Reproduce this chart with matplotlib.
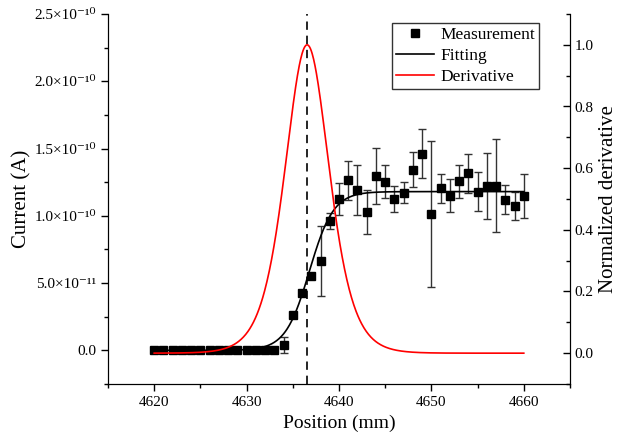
import numpy as np
import matplotlib
matplotlib.use("Agg")
import matplotlib.pyplot as plt
from matplotlib.ticker import MultipleLocator, FuncFormatter
from matplotlib.lines import Line2D

plt.rcParams['font.family'] = ['Liberation Serif', 'DejaVu Serif']

# Measurement data
position = list(range(4620, 4661))
current = [0, 0, 0, 0, 0, 0, 0, 0, 0, 0, 0, 0, 0, 0,
           0.40e-11, 2.60e-11, 4.26e-11, 5.53e-11, 6.67e-11, 9.62e-11,
           11.26e-11, 12.65e-11, 11.90e-11, 10.27e-11, 12.95e-11, 12.52e-11,
           11.23e-11, 11.73e-11, 13.44e-11, 14.63e-11, 10.14e-11, 12.05e-11,
           11.48e-11, 12.57e-11, 13.15e-11, 11.78e-11, 12.20e-11, 12.25e-11,
           11.21e-11, 10.71e-11, 11.48e-11]
current_err = [0, 0, 0, 0, 0, 0, 0, 0, 0, 0, 0, 0, 0, 0,
               0.57e-11, 0.2e-11, 0.2e-11, 0.2e-11, 2.6e-11, 0.57e-11,
               1.17e-11, 1.46e-11, 1.85e-11, 1.64e-11, 2.10e-11, 1.23e-11,
               0.95e-11, 0.79e-11, 1.27e-11, 1.82e-11, 5.42e-11, 1.08e-11,
               1.22e-11, 1.23e-11, 1.44e-11, 1.44e-11, 2.44e-11, 3.46e-11,
               1.10e-11, 1.03e-11, 1.61e-11]

# Boltzmann fit parameters
fit_A1 = 0.0
fit_A2 = 1.18e-10
fit_x0 = 4636.8
fit_dx = 1.3
# Derivative curve parameters
deriv_x0 = 4636.55
deriv_dx = 1.6
fit_range = (4620, 4660)

x_fit = np.linspace(fit_range[0], fit_range[1], 801)
y_fit = fit_A2 + (fit_A1 - fit_A2) / (1 + np.exp((x_fit - fit_x0) / fit_dx))
sig = 1 / (1 + np.exp(-(x_fit - deriv_x0) / deriv_dx))
y_der = 4 * sig * (1 - sig)

fig = plt.figure(figsize=(6.19, 4.47), dpi=100)
ax = fig.add_axes([108/619, 1-384/447, (570-108)/619, (384-14)/447])
ax2 = ax.twinx()

ax.errorbar(position, current, yerr=current_err, fmt='s', color='black',
            ecolor='#333333', elinewidth=1.0, capsize=3, capthick=1.0,
            markersize=6, zorder=3)
ax.plot(x_fit, y_fit, color='black', lw=1.2, zorder=4)
ax2.plot(x_fit, y_der, color='red', lw=1.2)
ax.axvline(deriv_x0, color='black', lw=1.2, dashes=(5, 3.5), zorder=5)

ax.set_xlim(4615, 4665)
ax.set_ylim(-2.5e-11, 2.5e-10)
ax2.set_ylim(-0.1, 1.1)

ax.xaxis.set_major_locator(MultipleLocator(10))
ax.xaxis.set_minor_locator(MultipleLocator(5))
ax.yaxis.set_major_locator(MultipleLocator(5e-11))
ax.yaxis.set_minor_locator(MultipleLocator(2.5e-11))
ax2.yaxis.set_major_locator(MultipleLocator(0.2))
ax2.yaxis.set_minor_locator(MultipleLocator(0.1))

SUP = str.maketrans('-0123456789', '\u207b\u2070\u00b9\u00b2\u00b3\u2074\u2075\u2076\u2077\u2078\u2079')

def sci(v, pos):
    if abs(v) < 1e-20:
        return '0.0'
    e = int(np.floor(np.log10(abs(v)) + 1e-9))
    m = v / 10**e
    return '%.1f\u00d710%s' % (m, str(e).translate(SUP))

ax.yaxis.set_major_formatter(FuncFormatter(sci))
ax2.yaxis.set_major_formatter(FuncFormatter(lambda v, p: '%.1f' % v))

for a in (ax, ax2):
    a.spines['top'].set_visible(False)
ax.tick_params(axis='both', which='major', direction='out', length=5, width=1, labelsize=11)
ax.tick_params(axis='both', which='minor', direction='out', length=3, width=1)
ax2.tick_params(axis='y', which='major', direction='in', length=5, width=1, labelsize=11)
ax2.tick_params(axis='y', which='minor', direction='in', length=3, width=1)

ax.set_xlabel('Position (mm)', fontsize=14)
ax.set_ylabel('Current (A)', fontsize=15)
ax2.set_ylabel('Normalized derivative', fontsize=15)
ax.yaxis.set_label_coords((31 - 108) / 462, 0.5)
ax2.yaxis.set_label_coords((599 - 108) / 462, 0.5)

handles = [Line2D([], [], marker='s', color='black', ls='none', markersize=6),
           Line2D([], [], color='black', lw=1.2),
           Line2D([], [], color='red', lw=1.2)]
leg = ax2.legend(handles, ['Measurement', 'Fitting', 'Derivative'],
                 loc='upper right', bbox_to_anchor=(539/619, 1-23/447),
                 bbox_transform=fig.transFigure, fontsize=12.5, frameon=True,
                 fancybox=False, edgecolor='black', borderpad=0.2,
                 labelspacing=0.3, handlelength=2.2, handletextpad=0.4,
                 borderaxespad=0)
leg.get_frame().set_linewidth(1.0)

fig.savefig('out.png', dpi=100)
